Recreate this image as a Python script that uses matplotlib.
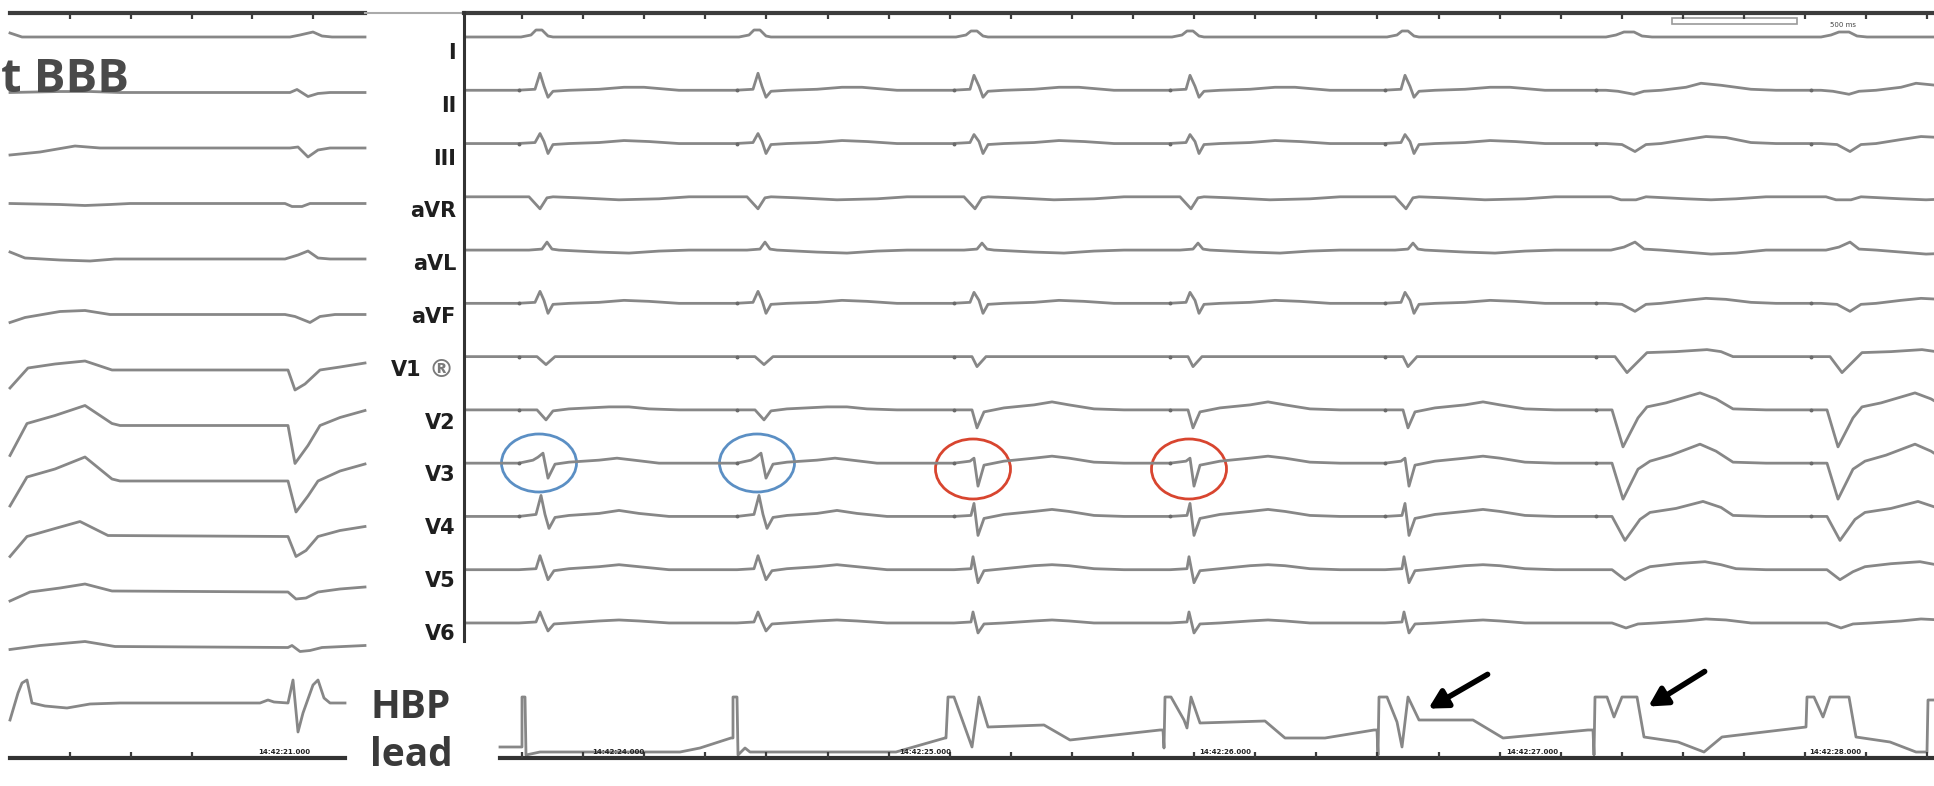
import numpy as np
import matplotlib
matplotlib.use('Agg')
import matplotlib.pyplot as plt
from matplotlib.patches import Ellipse

W, H = 1934, 786

# ---- data (x along the strip in px, amplitudes in px, up = +) ----
leads = ['I', 'II', 'III', 'aVR', 'aVL', 'aVF', 'V1', 'V2', 'V3', 'V4', 'V5', 'V6']

# right strip: QRS positions and beat type
beat_x = [539, 757, 974, 1190, 1405, 1626, 1841]
beat_kind = ['hbp1', 'hbp1', 'hbp2', 'hbp2', 'hbp2', 'lbbb', 'lbbb']

# beat templates (dx from QRS, amplitude) per lead
hbp1_shapes = [
    [(-18, 0), (-8, 2), (-3, 7), (3, 7), (9, 1), (14, 0)],
    [(-22, 0), (-4, 1), (1, 17), (5, 4), (9, -7), (14, -1), (30, 0), (60, 1), (85, 3), (105, 3), (140, 0)],
    [(-22, 0), (-4, 1), (1, 10), (5, 2), (9, -10), (14, -1), (30, 0), (60, 1), (85, 3), (110, 2), (140, 0)],
    [(-10, 0), (1, -12), (8, -1), (14, 0), (40, -1), (80, -3), (120, -2), (150, 0)],
    [(-10, 0), (3, 1), (8, 8), (13, 1), (20, 0), (60, -2), (90, -3), (120, -1), (150, 0)],
    [(-22, 0), (-4, 1), (1, 12), (5, 3), (9, -10), (14, -1), (30, 0), (60, 1), (85, 3), (110, 2), (140, 0)],
    [(-20, 0), (-2, 0), (7, -8), (16, 0)],
    [(-20, 0), (-2, 0), (7, -10), (14, -1), (30, 1), (70, 3), (90, 3), (110, 1), (140, 0)],
    [(-20, 0), (-6, 3), (-1, 6), (4, 10), (9, -15), (16, -1), (30, 1), (60, 3), (78, 5), (95, 3), (120, 0)],
    [(-20, 0), (-3, 2), (2, 21), (6, 2), (10, -12), (16, -1), (30, 1), (60, 3), (80, 6), (100, 3), (130, 0)],
    [(-20, 0), (-3, 1), (1, 14), (5, 2), (9, -10), (15, -1), (30, 1), (60, 3), (80, 5), (100, 3), (130, 0)],
    [(-20, 0), (-3, 1), (1, 11), (5, 1), (9, -8), (15, -1), (30, 0), (60, 2), (80, 3), (100, 2), (130, 0)],
]
hbp2_shapes = [
    [(-18, 0), (-8, 2), (-3, 6), (3, 6), (9, 1), (14, 0)],
    [(-22, 0), (-4, 1), (0, 15), (5, 4), (9, -7), (14, -1), (30, 0), (60, 1), (85, 3), (105, 3), (140, 0)],
    [(-22, 0), (-4, 1), (0, 9), (5, 2), (9, -10), (14, -1), (30, 0), (60, 1), (85, 3), (110, 2), (140, 0)],
    [(-10, 0), (1, -12), (8, -1), (14, 0), (40, -1), (80, -3), (120, -2), (150, 0)],
    [(-10, 0), (3, 1), (8, 7), (13, 1), (20, 0), (60, -2), (90, -3), (120, -1), (150, 0)],
    [(-22, 0), (-4, 1), (0, 11), (5, 3), (9, -10), (14, -1), (30, 0), (60, 1), (85, 3), (110, 2), (140, 0)],
    [(-20, 0), (-2, 0), (3, -10), (12, 0)],
    [(-20, 0), (-2, 0), (3, -18), (10, -2), (30, 2), (60, 5), (78, 8), (95, 5), (120, 1), (150, 0)],
    [(-20, 0), (-4, 2), (0, 5), (4, -23), (10, -2), (30, 2), (60, 5), (78, 7), (95, 5), (120, 1), (150, 0)],
    [(-20, 0), (-3, 1), (0, 13), (4, -19), (10, -2), (30, 2), (60, 5), (78, 7), (95, 5), (120, 1), (150, 0)],
    [(-20, 0), (-3, 1), (-1, 13), (4, -13), (10, -1), (30, 1), (60, 4), (78, 5), (95, 4), (120, 1), (150, 0)],
    [(-20, 0), (-3, 1), (-1, 11), (4, -10), (10, -1), (30, 0), (60, 2), (78, 3), (95, 2), (120, 0)],
]
lbbb_shapes = [
    [(-20, 0), (-10, 2), (-2, 5), (8, 5), (16, 1), (26, 0)],
    [(-20, 0), (-8, -1), (8, -4), (18, -1), (35, 0), (60, 3), (75, 7), (95, 5), (125, 1), (150, 0)],
    [(-20, 0), (-4, -1), (9, -8), (20, -1), (35, 0), (60, 4), (80, 7), (100, 6), (125, 1), (150, 0)],
    [(-15, 0), (-5, -3), (10, -3), (20, 0), (60, -2), (85, -3), (110, -2), (140, 0)],
    [(-15, 0), (-2, 3), (9, 8), (18, 1), (35, 0), (60, -2), (85, -4), (110, -3), (140, 0)],
    [(-20, 0), (-4, -1), (9, -8), (20, -1), (35, 0), (60, 3), (80, 5), (100, 4), (125, 1), (150, 0)],
    [(-20, 0), (-11, 0), (1, -16), (21, 4), (50, 5), (81, 7), (95, 5), (107, 0)],
    [(-14, 0), (-3, -37), (12, -8), (21, 3), (40, 7), (74, 17), (90, 11), (107, 1), (140, 0)],
    [(-14, 0), (-3, -36), (12, -6), (24, 2), (45, 8), (74, 19), (90, 12), (107, 1), (140, 0)],
    [(-14, 0), (-1, -24), (14, -3), (24, 4), (50, 8), (77, 15), (95, 9), (107, 1), (140, 0)],
    [(-14, 0), (-1, -10), (12, -2), (24, 3), (50, 6), (79, 8), (95, 5), (110, 1), (140, 0)],
    [(-14, 0), (0, -5), (12, -1), (30, 0), (60, 2), (80, 4), (100, 3), (125, 0)],
]

# leads showing a small pacing dot just before the QRS
dot_leads = ['II', 'III', 'aVF', 'V1', 'V2', 'V3', 'V4']

# left strip (Left BBB), vertices (x, amplitude) per lead
left_traces = [
    [(10, 4), (22, 0), (290, 0), (300, 2), (313, 5), (322, 1), (332, 0), (365, 0)],
    [(10, 0), (60, 1), (90, 1), (120, 0), (290, 0), (297, 3), (308, -4), (318, -1), (330, 0), (365, 0)],
    [(10, -7), (40, -4), (75, 2), (100, 0), (290, 0), (298, 1), (308, -9), (318, -2), (330, 0), (365, 0)],
    [(10, 0), (60, -1), (85, -2), (110, -1), (130, 0), (285, 0), (292, -3), (302, -3), (310, 0), (365, 0)],
    [(10, 7), (25, 1), (60, -1), (90, -2), (115, 0), (285, 0), (298, 4), (308, 8), (318, 1), (330, 0), (365, 0)],
    [(10, -8), (25, -3), (60, 3), (85, 4), (110, 0), (285, 0), (295, -2), (310, -8), (320, -2), (335, 0), (365, 0)],
    [(10, -18), (28, 2), (55, 6), (85, 9), (112, 0), (288, 0), (295, -20), (305, -14), (320, 0), (340, 3), (365, 7)],
    [(10, -30), (27, 2), (55, 10), (85, 20), (112, 2), (120, 0), (288, 0), (295, -38), (308, -20), (320, 0), (340, 8), (365, 15)],
    [(10, -25), (27, 4), (55, 12), (85, 24), (112, 2), (120, 0), (288, 0), (296, -31), (308, -15), (318, 0), (340, 10), (365, 17)],
    [(10, -20), (27, 0), (55, 8), (80, 15), (108, 1), (288, 0), (296, -20), (306, -14), (318, 0), (340, 6), (365, 10)],
    [(10, -9), (30, 0), (60, 4), (85, 8), (112, 1), (288, 0), (296, -7), (306, -6), (318, 0), (340, 3), (365, 5)],
    [(10, -2), (40, 2), (85, 6), (115, 1), (288, 0), (292, 2), (300, -4), (310, -3), (322, 0), (365, 2)],
]
left_hbp = [(10, -17), (18, 10), (22, 20), (27, 23), (32, 0), (45, -3), (67, -5), (90, -1), (120, 0),
            (260, 0), (268, 3), (274, 1), (288, 0), (293, 23), (298, -29), (303, -10), (313, 18),
            (318, 23), (324, 5), (330, 0), (345, 0)]

# HBP lead, right strip: x and height above the strip bottom
hbp_x = [500, 520, 522, 522, 525, 526, 540, 680, 700, 731, 733, 733, 737, 738, 745, 750, 896, 945, 946,
         948, 954, 972, 979, 988, 1044, 1070, 1160, 1163, 1164, 1165, 1171, 1184, 1187, 1191, 1200,
         1265, 1285, 1325, 1374, 1377, 1378, 1379, 1387, 1397, 1402, 1408, 1419, 1473, 1503, 1588,
         1593, 1594, 1595, 1607, 1614, 1622, 1637, 1644, 1678, 1704, 1722, 1806, 1807, 1814, 1823,
         1830, 1849, 1856, 1890, 1916, 1927, 1928, 1934]
hbp_h = [11, 11, 11, 61, 61, 3, 6, 6, 10, 20, 20, 61, 61, 3, 10, 6, 6, 20, 20,
         61, 61, 11, 61, 31, 33, 18, 28, 28, 10, 61, 61, 38, 30, 61, 35,
         37, 20, 20, 28, 28, 3, 61, 61, 36, 11, 61, 38, 38, 20, 28,
         28, 3, 61, 61, 41, 61, 61, 21, 16, 6, 21, 31, 61, 61, 41,
         61, 61, 21, 16, 6, 6, 58, 58]

left_times = ['14:42:21.000']
right_times = ['14:42:24.000', '14:42:25.000', '14:42:26.000', '14:42:27.000', '14:42:28.000']

# ---- layout ----
trace_c = '#878787'
ink = '#3c3c3c'
right_base = [37 + 53.27 * k for k in range(12)]
left_base = [37 + 55.5 * k for k in range(12)]
label_y = [53 + 52.8 * k for k in range(12)]
hbp_left_base = 703
strip_bottom = 758
x_axis = 464

fig = plt.figure(figsize=(W / 100, H / 100), dpi=100)
ax = fig.add_axes([0, 0, 1, 1])
ax.set_xlim(0, W)
ax.set_ylim(H, 0)
ax.axis('off')

shapes = {'hbp1': hbp1_shapes, 'hbp2': hbp2_shapes, 'lbbb': lbbb_shapes}

# right panel traces
for i, lead in enumerate(leads):
    base = right_base[i]
    xs, ys = [x_axis + 2], [base]
    for bx, kind in zip(beat_x, beat_kind):
        for dx, dy in shapes[kind][i]:
            xs.append(bx + dx)
            ys.append(base - dy)
    xs.append(W + 50)
    ys.append(base)
    ax.plot(xs, ys, color=trace_c, lw=2.0, solid_joinstyle='round')
    if lead in dot_leads:
        dx = [bx - (30 if k == 'lbbb' else 20) for bx, k in zip(beat_x, beat_kind)]
        ax.plot(dx, [base] * len(dx), 'o', ms=1.8, color='#6a6a6a')

# left panel traces
for i, tr in enumerate(left_traces):
    xs = [p[0] for p in tr]
    ys = [left_base[i] - p[1] for p in tr]
    ax.plot(xs, ys, color=trace_c, lw=2.0, solid_joinstyle='round')
ax.plot([p[0] for p in left_hbp], [hbp_left_base - p[1] for p in left_hbp],
        color=trace_c, lw=2.0, solid_joinstyle='round')

# HBP right
ax.plot(hbp_x, [strip_bottom - h for h in hbp_h], color=trace_c, lw=2.0, solid_joinstyle='round')

# frame: top bars, vertical axis, bottom bars
ax.plot([10, 365], [13, 13], color=ink, lw=3)
ax.plot([365, x_axis], [13, 13], color='#aaaaaa', lw=1.5)
ax.plot([x_axis, W], [13, 13], color=ink, lw=3)
ax.plot([x_axis, x_axis], [12, 641], color='#333333', lw=2.2)
ax.plot([10, 345], [strip_bottom, strip_bottom], color='#333333', lw=3)
ax.plot([500, W], [strip_bottom, strip_bottom], color='#333333', lw=3)

left_ticks = np.arange(70, 330, 60.8)
right_ticks = np.arange(522, W, 61.1)
ax.vlines(left_ticks, 13, 19, color=ink, lw=1.6)
ax.vlines(right_ticks, 13, 19, color=ink, lw=1.6)
ax.vlines(left_ticks[:3], strip_bottom - 6, strip_bottom, color=ink, lw=1.6)
ax.vlines(right_ticks, strip_bottom - 6, strip_bottom, color=ink, lw=1.6)

# timestamps on the bottom strips
ax.text(284, strip_bottom - 3, left_times[0], fontsize=5, fontweight='bold', color='#222222',
        ha='center', va='bottom')
for cx, t in zip([618, 925, 1225, 1532, 1835], right_times):
    ax.text(cx, strip_bottom - 3, t, fontsize=5, fontweight='bold', color='#222222',
            ha='center', va='bottom')

# scale bar top right
ax.add_patch(plt.Rectangle((1672, 18), 125, 6, fill=False, edgecolor='#9a9a9a', lw=1.2))
ax.text(1830, 25, '500 ms', fontsize=5, color='#444444', ha='left', va='center')

# lead labels
for i, lead in enumerate(leads):
    x = 456
    if lead == 'V1':
        ax.text(441, label_y[i], '\u00ae', fontsize=18, fontweight='bold', color='#7a7a7a',
                ha='center', va='center')
        x = 422
    ax.text(x, label_y[i], lead, fontsize=15, fontweight='bold', color='#1e1e1e',
            ha='right', va='center', family='DejaVu Sans')

# panel captions
ax.text(1, 80, 't BBB', fontsize=34, fontweight='bold', color='#4a4a4a', ha='left', va='center',
        family='Open Sans')
cap_font = ['Liberation Sans Narrow', 'Open Sans']
ax.text(370, 707, 'HBP', fontsize=28, fontweight='bold', color='#3a3a3a', ha='left', va='center',
        family=cap_font)
ax.text(370, 756, 'lead', fontsize=28, fontweight='bold', color='#3a3a3a', ha='left', va='center',
        family=cap_font)

# circles on V3
for cx in beat_x[:2]:
    ax.add_patch(Ellipse((cx, 463), 75, 58, fill=False, edgecolor='#5b8fc4', lw=2))
for cx in beat_x[2:4]:
    ax.add_patch(Ellipse((cx - 1, 469), 75, 60, fill=False, edgecolor='#d8452f', lw=2))

# arrows on HBP lead
for tail, head in [((1490, 673), (1426, 710)), ((1707, 670), (1646, 708))]:
    ax.annotate('', xy=head, xytext=tail,
                arrowprops=dict(arrowstyle='-|>,head_length=1.1,head_width=0.6', color='black', lw=4))

fig.savefig('out.png', dpi=100)
